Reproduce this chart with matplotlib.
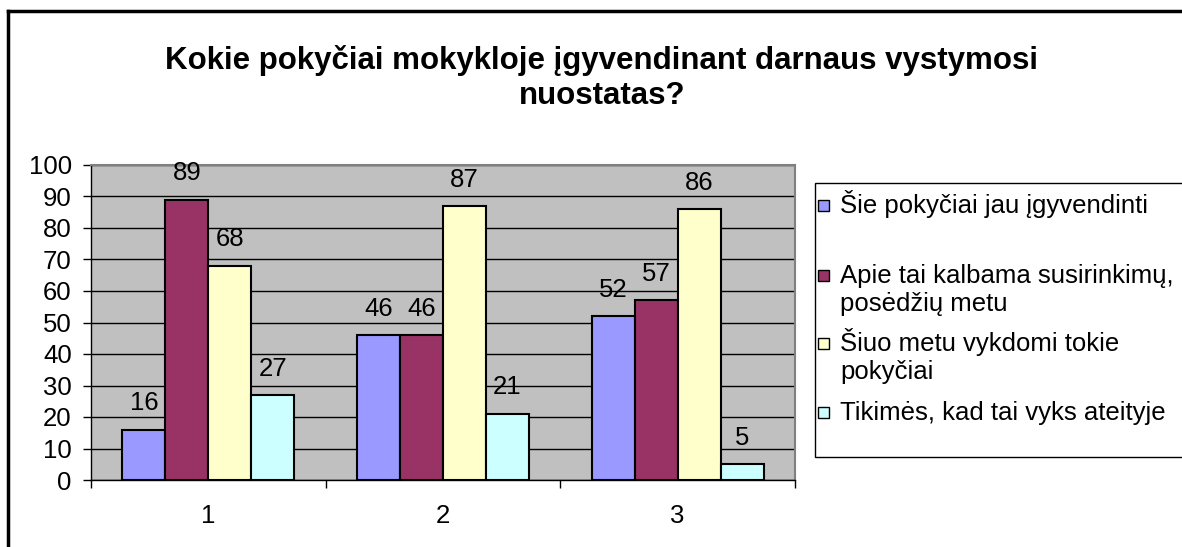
import numpy as np
import matplotlib
matplotlib.use("Agg")
import matplotlib.pyplot as plt
from matplotlib.patches import Rectangle
from matplotlib.lines import Line2D

plt.rcParams['font.family'] = ['Liberation Sans', 'DejaVu Sans']

title = "Kokie pokyčiai mokykloje įgyvendinant darnaus vystymosi\nnuostatas?"
categories = ["1", "2", "3"]
series_names = ["Šie pokyčiai jau įgyvendinti",
                "Apie tai kalbama susirinkimų,\nposėdžių metu",
                "Šiuo metu vykdomi tokie\npokyčiai",
                "Tikimės, kad tai vyks ateityje"]
values = [
    [16, 46, 52],
    [89, 46, 57],
    [68, 87, 86],
    [27, 21, 5],
]
colors = ["#9999FF", "#993366", "#FFFFCC", "#CCFFFF"]

W, H = 1182, 547
fig = plt.figure(figsize=(W / 100, H / 100), dpi=100)

def fx(px):
    return px / W

def fy(py):
    return 1 - py / H

# plot area
ax = fig.add_axes([fx(91), fy(480), fx(795) - fx(91), fy(165) - fy(480)])
ax.set_facecolor("#C0C0C0")

x = np.arange(len(categories))
bw = 0.183
for i, (vals, c) in enumerate(zip(values, colors)):
    pos = x + (i - 1.5) * bw
    ax.bar(pos, vals, bw, color=c, edgecolor="black", linewidth=1.5, zorder=3)
    for p, v in zip(pos, vals):
        ax.annotate(str(v), (p, v), xytext=(0, 19), textcoords="offset points",
                    ha="center", va="center", fontsize=18.5, zorder=4)

ax.set_xlim(-0.5, len(categories) - 0.5)
ax.set_ylim(0, 100)
ax.set_yticks(range(0, 101, 10))
ax.tick_params(axis="y", labelsize=18.5, length=5.8, width=1, pad=8)
ax.yaxis.grid(True, color="black", linewidth=1, zorder=1)
ax.set_axisbelow(True)

ax.set_xticks(x)
ax.set_xticklabels(categories, fontsize=18.5)
ax.tick_params(axis="x", length=0, pad=17)
ax.set_xticks(np.arange(-0.5, len(categories), 1), minor=True)
ax.tick_params(axis="x", which="minor", length=6, width=1)

for s in ["left", "bottom"]:
    ax.spines[s].set_color("black")
    ax.spines[s].set_linewidth(1)
for s in ["top", "right"]:
    ax.spines[s].set_color("#808080")
    ax.spines[s].set_linewidth(1.5)

# title
fig.text(0.509, fy(78), title, ha="center", va="center", fontsize=22.5,
         fontweight="bold", linespacing=1.2)

# chart border (top and left visible)
fig.add_artist(Line2D([fx(8), 1.0], [fy(11), fy(11)], color="black", linewidth=2.5))
fig.add_artist(Line2D([fx(8), fx(8)], [fy(11), 0.0], color="black", linewidth=2.5))

# legend
fig.add_artist(Rectangle((fx(815), fy(457)), fx(400), fy(183) - fy(457),
                         facecolor="white", edgecolor="black", linewidth=1))
baselines = [213, 283, 351, 420]
for name, c, b in zip(series_names, colors, baselines):
    fig.add_artist(Rectangle((fx(818), fy(b - 2)), fx(11), fy(b - 13) - fy(b - 2),
                             facecolor=c, edgecolor="black", linewidth=1))
    for k, line in enumerate(name.split("\n")):
        fig.text(fx(840), fy(b + 28 * k), line, ha="left", va="baseline", fontsize=18.5)

fig.savefig("out.png", dpi=100, facecolor="white")
